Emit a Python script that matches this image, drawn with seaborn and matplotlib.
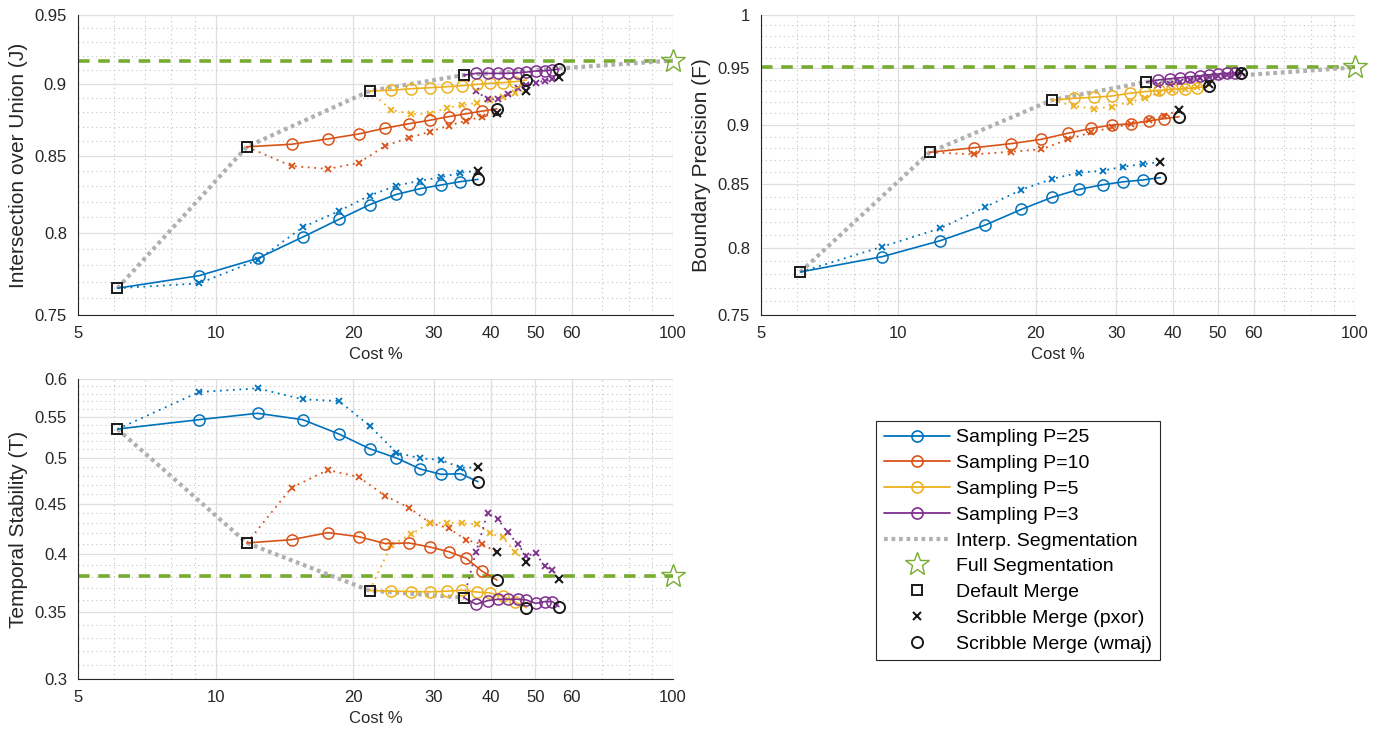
import numpy as np
import matplotlib
matplotlib.use("Agg")
import matplotlib.pyplot as plt
import seaborn as sns
from matplotlib.lines import Line2D
from matplotlib.ticker import FixedLocator, FixedFormatter, NullFormatter

# ---------------- data ----------------
cost_p25 = [6.1, 9.2, 12.35, 15.5, 18.6, 21.7, 24.85, 28.0, 31.1, 34.3, 37.45]
cost_p10 = [11.7, 14.65, 17.6, 20.55, 23.5, 26.45, 29.4, 32.35, 35.3, 38.25, 41.2]
cost_p5 = [21.7, 24.2, 26.8, 29.4, 32.1, 34.6, 37.2, 39.8, 42.4, 45.1, 47.8]
cost_p3 = [34.9, 37.1, 39.3, 41.4, 43.5, 45.8, 47.8, 50.1, 52.4, 54.5, 56.3]

# Intersection over Union (J)
iou_p25_wmaj = [0.766, 0.7736, 0.7842, 0.7975, 0.8087, 0.8181, 0.8248, 0.8285, 0.8309, 0.8331, 0.8346]
iou_p25_pxor = [0.766, 0.7689, 0.7832, 0.8037, 0.8140, 0.8240, 0.8305, 0.8337, 0.8360, 0.8390, 0.8403]
iou_p10_wmaj = [0.8563, 0.8580, 0.8616, 0.8650, 0.8690, 0.8720, 0.8744, 0.8769, 0.8789, 0.8807, 0.8823]
iou_p10_pxor = [0.8563, 0.8434, 0.8415, 0.8455, 0.8570, 0.8624, 0.8665, 0.8707, 0.8741, 0.8769, 0.8792]
iou_p5_wmaj = [0.8948, 0.8953, 0.8964, 0.8971, 0.8978, 0.8985, 0.8995, 0.9002, 0.9007, 0.9014, 0.9026]
iou_p5_pxor = [0.8948, 0.8815, 0.8788, 0.8788, 0.8831, 0.8849, 0.8865, 0.8884, 0.8908, 0.8932, 0.8948]
iou_p3_wmaj = [0.9061, 0.9073, 0.9073, 0.9073, 0.9073, 0.9077, 0.9082, 0.9090, 0.9092, 0.9097, 0.9104]
iou_p3_pxor = [0.9061, 0.8949, 0.8889, 0.8889, 0.8927, 0.8967, 0.8990, 0.9007, 0.9020, 0.9030, 0.9045]
iou_full = 0.9165

# Boundary Precision (F)
bp_p25_wmaj = [0.7816, 0.7931, 0.8054, 0.8176, 0.8300, 0.8396, 0.8460, 0.8498, 0.8522, 0.8537, 0.8556]
bp_p25_pxor = [0.7816, 0.8007, 0.8150, 0.8318, 0.8458, 0.8545, 0.8597, 0.8613, 0.8646, 0.8668, 0.8685]
bp_p10_wmaj = [0.8766, 0.8805, 0.8839, 0.8876, 0.8928, 0.8970, 0.8999, 0.9010, 0.9033, 0.9054, 0.9071]
bp_p10_pxor = [0.8766, 0.8749, 0.8771, 0.8791, 0.8876, 0.8936, 0.8979, 0.9005, 0.9042, 0.9077, 0.9129]
bp_p5_wmaj = [0.9217, 0.9232, 0.9241, 0.9253, 0.9277, 0.9291, 0.9303, 0.9312, 0.9318, 0.9327, 0.9342]
bp_p5_pxor = [0.9217, 0.9164, 0.9140, 0.9158, 0.9202, 0.9232, 0.9282, 0.9306, 0.9318, 0.9331, 0.9360]
bp_p3_wmaj = [0.9378, 0.9396, 0.9407, 0.9416, 0.9425, 0.9434, 0.9443, 0.9449, 0.9456, 0.9460, 0.9462]
bp_p3_pxor = [0.9378, 0.9355, 0.9360, 0.9380, 0.9395, 0.9410, 0.9420, 0.9430, 0.9440, 0.9450, 0.9465]
bp_full = 0.951

# Temporal Stability (T)
ts_p25_wmaj = [0.5345, 0.5462, 0.5543, 0.5462, 0.5284, 0.5108, 0.4999, 0.4874, 0.4814, 0.4821, 0.4733]
ts_p25_pxor = [0.5345, 0.5822, 0.5872, 0.5725, 0.5702, 0.5387, 0.5061, 0.4996, 0.4977, 0.4888, 0.4891]
ts_p10_wmaj = [0.4108, 0.4139, 0.4207, 0.4168, 0.4102, 0.4108, 0.4070, 0.4026, 0.3965, 0.3848, 0.3771]
ts_p10_pxor = [0.4108, 0.4668, 0.4862, 0.4784, 0.4579, 0.4457, 0.4305, 0.4249, 0.4136, 0.4098, 0.4020]
ts_p5_wmaj = [0.3680, 0.3675, 0.3672, 0.3669, 0.3675, 0.3683, 0.3668, 0.3660, 0.3632, 0.3585, 0.3538]
ts_p5_pxor = [0.3680, 0.4088, 0.4194, 0.4305, 0.4305, 0.4299, 0.4289, 0.4201, 0.4162, 0.4026, 0.3934]
ts_p3_wmaj = [0.3620, 0.3565, 0.3595, 0.3607, 0.3607, 0.3607, 0.3601, 0.3573, 0.3587, 0.3587, 0.3546]
ts_p3_pxor = [0.3620, 0.4026, 0.4399, 0.4339, 0.4210, 0.4095, 0.3986, 0.4011, 0.3895, 0.3859, 0.3777]
ts_full = 0.381

full_cost = 100
x_ticks = [5, 10, 20, 30, 40, 50, 60, 100]
x_tick_labels = ["5", "10", "20", "30", "40", "50", "60", "100"]
series_names = ["Sampling P=25", "Sampling P=10", "Sampling P=5", "Sampling P=3"]
other_names = ["Interp. Segmentation", "Full Segmentation", "Default Merge",
               "Scribble Merge (pxor)", "Scribble Merge (wmaj)"]

# ---------------- style ----------------
sns.set_theme(style="white")
plt.rcParams["font.family"] = ["Liberation Sans", "DejaVu Sans"]
colors = ["#0072BD", "#D95319", "#EDB120", "#7E2F8E"]
green = "#77AC30"
gray = "#b0b0b0"
dark = "#262626"

W, H = 1383, 733
fig = plt.figure(figsize=(W / 100, H / 100), dpi=100)


def fig_rect(l, t, r, b):
    return [l / W, 1 - b / H, (r - l) / W, (b - t) / H]


ax1 = fig.add_axes(fig_rect(78, 15, 673, 315))
ax2 = fig.add_axes(fig_rect(761, 15, 1355, 315))
ax3 = fig.add_axes(fig_rect(78, 379, 673, 679))

costs = [cost_p25, cost_p10, cost_p5, cost_p3]
panels = [
    (ax1, [iou_p25_wmaj, iou_p10_wmaj, iou_p5_wmaj, iou_p3_wmaj],
     [iou_p25_pxor, iou_p10_pxor, iou_p5_pxor, iou_p3_pxor], iou_full,
     "Intersection over Union (J)", (0.75, 0.95), [0.75, 0.8, 0.85, 0.9, 0.95], True),
    (ax2, [bp_p25_wmaj, bp_p10_wmaj, bp_p5_wmaj, bp_p3_wmaj],
     [bp_p25_pxor, bp_p10_pxor, bp_p5_pxor, bp_p3_pxor], bp_full,
     "Boundary Precision (F)", (0.75, 1.0), [0.75, 0.8, 0.85, 0.9, 0.95, 1.0], True),
    (ax3, [ts_p25_wmaj, ts_p10_wmaj, ts_p5_wmaj, ts_p3_wmaj],
     [ts_p25_pxor, ts_p10_pxor, ts_p5_pxor, ts_p3_pxor], ts_full,
     "Temporal Stability (T)", (0.3, 0.6), [0.3, 0.35, 0.4, 0.45, 0.5, 0.55, 0.6], False),
]

for ax, wmaj, pxor, full, ylab, ylim, yt, interp_to_full in panels:
    ax.set_xscale("log")
    ax.set_yscale("log")
    # full segmentation reference
    ax.axhline(full, color=green, lw=2.6, ls=(0, (3.2, 2.4)), zorder=1)
    # interpolated segmentation through the default merges
    gx = [c[0] for c in costs]
    gy = [w[0] for w in wmaj]
    if interp_to_full:
        gx = gx + [full_cost]
        gy = gy + [full]
    sns.lineplot(x=gx, y=gy, ax=ax, color=gray, lw=3.0, ls=(0, (0.9, 0.9)),
                 sort=False, estimator=None, zorder=2)
    for c, col, w, p in zip(costs, colors, wmaj, pxor):
        inner = list(range(1, len(c) - 1))
        sns.lineplot(x=c, y=p, ax=ax, color=col, lw=1.3, ls=(0, (1, 2.6)),
                     marker="x", markersize=5, markeredgecolor=col,
                     markeredgewidth=1.3, markevery=inner,
                     sort=False, estimator=None, zorder=3)
        sns.lineplot(x=c, y=w, ax=ax, color=col, lw=1.2, ls="-",
                     marker="o", markersize=8, markerfacecolor="none",
                     markeredgecolor=col, markeredgewidth=1.1, markevery=inner,
                     sort=False, estimator=None, zorder=4)
        ax.plot([c[-1]], [p[-1]], ls="none", marker="x", ms=5.5, mec="k",
                mew=1.5, zorder=6)
        ax.plot([c[-1]], [w[-1]], ls="none", marker="o", ms=8, mfc="none",
                mec="k", mew=1.4, zorder=6)
        ax.plot([c[0]], [w[0]], ls="none", marker="s", ms=7.5, mfc="none",
                mec="k", mew=1.4, zorder=7)
    ax.plot([full_cost], [full], ls="none", marker="*", ms=18, mfc="none",
            mec=green, mew=1.0, zorder=8, clip_on=False)

    ax.set_xlim(5, 100)
    ax.set_ylim(*ylim)
    ax.xaxis.set_major_locator(FixedLocator(x_ticks))
    ax.xaxis.set_major_formatter(FixedFormatter(x_tick_labels))
    ax.xaxis.set_minor_locator(FixedLocator([6, 7, 8, 9, 70, 80, 90]))
    ax.xaxis.set_minor_formatter(NullFormatter())
    ax.yaxis.set_major_locator(FixedLocator(yt))
    ax.yaxis.set_major_formatter(FixedFormatter(["%g" % v for v in yt]))
    minors = [m for m in np.round(np.arange(ylim[0], ylim[1] + 0.001, 0.01), 2)
              if not any(abs(m - t) < 1e-6 for t in yt)]
    ax.yaxis.set_minor_locator(FixedLocator(minors))
    ax.yaxis.set_minor_formatter(NullFormatter())

    ax.grid(which="major", color="#dfdfdf", lw=0.9, ls="-")
    ax.grid(which="minor", color="#c4c4c4", lw=0.8, ls=(0, (1, 3)))
    ax.set_axisbelow(True)
    for s in ["top", "right"]:
        ax.spines[s].set_visible(False)
    for s in ["left", "bottom"]:
        ax.spines[s].set_color(dark)
        ax.spines[s].set_linewidth(0.8)
    ax.tick_params(which="both", direction="in", top=False, right=False,
                   colors=dark, labelsize=12)
    ax.tick_params(axis="y", pad=8)
    ax.tick_params(axis="x", pad=8)
    ax.tick_params(which="major", length=5, width=0.8)
    ax.tick_params(which="minor", length=3, width=0.6)
    ax.set_xlabel("Cost %", fontsize=12, color=dark, labelpad=4)
    ax.set_ylabel(ylab, fontsize=15, color=dark, labelpad=5)

# ---------------- legend ----------------
handles = []
for col in colors:
    handles.append(Line2D([], [], color=col, lw=1.3, marker="o", ms=8,
                          mfc="none", mec=col, mew=1.2))
handles.append(Line2D([], [], color=gray, lw=3.0, ls=(0, (0.9, 0.9))))
handles.append(Line2D([], [], ls="none", marker="*", ms=18, mfc="none", mec=green, mew=1.0))
handles.append(Line2D([], [], ls="none", marker="s", ms=7.5, mfc="none", mec="k", mew=1.4))
handles.append(Line2D([], [], ls="none", marker="x", ms=5.5, mec="k", mew=1.5))
handles.append(Line2D([], [], ls="none", marker="o", ms=8, mfc="none", mec="k", mew=1.4))

leg = fig.legend(handles, series_names + other_names, loc="upper left",
                 bbox_to_anchor=(876 / W, 1 - 421 / H), bbox_transform=fig.transFigure,
                 fontsize=14, frameon=True, fancybox=False, framealpha=1,
                 edgecolor=dark, numpoints=1, handlelength=3.4,
                 handletextpad=0.3, borderpad=0.4, labelspacing=0.42,
                 borderaxespad=0)
leg.get_frame().set_linewidth(0.8)
for t in leg.get_texts():
    t.set_color("black")

fig.savefig("out.png", dpi=100)
